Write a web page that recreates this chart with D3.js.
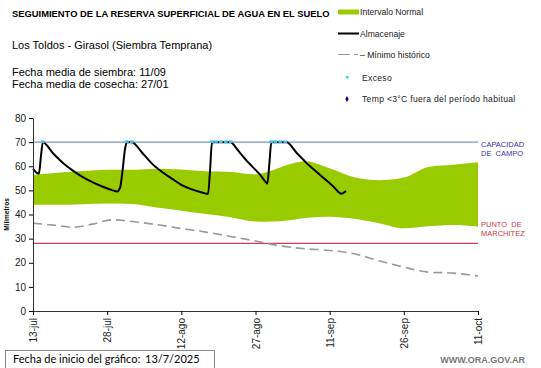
<!DOCTYPE html>
<html>
<head>
<meta charset="utf-8">
<script src="https://cdn.jsdelivr.net/npm/d3@7"></script>
<style>
  body { margin: 0; background: #fff; }
  svg { display: block; font-family: "Liberation Sans", Arial, sans-serif; }
</style>
</head>
<body>
<div id="chart"></div>
<script>
// dias desde el inicio del grafico (13/7/2025)
var bandDays = [0, 5, 10, 15, 20, 25, 30, 35, 40, 45, 47, 50, 53, 55, 60, 65, 70, 75, 80, 85, 90]
var bandHigh = [56.5, 57.3, 58, 58.6, 58.5, 59, 58.7, 57.9, 57.6, 56.6, 57.4, 59.5, 61.4, 62.1, 59.2, 55.4, 54.2, 55.3, 59.7, 60.6, 61.7]
var bandLow = [44, 44, 44.3, 44.6, 44.4, 42.9, 41.6, 40.2, 38.9, 37.1, 37, 37.2, 37.9, 38.6, 39.1, 38.2, 36.4, 34.3, 35.1, 35.6, 35]

var minDays = [0, 5, 8, 12, 16, 20, 25, 30, 35, 40, 45, 50, 55, 60, 65, 70, 75, 80, 85, 90]
var minHist = [36.4, 35.4, 34.7, 36, 37.8, 37.1, 35.8, 34.2, 32.7, 30.9, 29, 27, 25.8, 25.1, 23.7, 20.8, 18.2, 16.1, 15.7, 14.5]

var storeDays = [0, 0.7, 1.2, 1.6, 2, 4, 6, 8, 10, 12, 14, 16, 17, 17.6, 18.1, 18.6, 19, 20, 22, 24, 26, 28, 30, 32, 34, 35.4, 35.8, 36.2, 40, 41, 42, 43, 44, 45, 46, 47, 47.4, 47.8, 48.2, 51.3, 53.3, 55.3, 58, 60.7, 62.4, 63.3]
var storeValues = [59, 57.3, 56.9, 64, 70, 65.5, 61.5, 58.3, 55.6, 53.4, 51.6, 50.1, 49.5, 51, 58, 67, 70, 70, 65.8, 61.2, 57.8, 55, 52.3, 50.5, 49.2, 48.5, 58, 70, 70, 67.8, 65.2, 62.8, 60.6, 58.5, 56.3, 53.6, 52.8, 61, 70, 70, 65.6, 61.4, 56.5, 51.7, 48.6, 49.7]

var excessDays = [2, 19, 20, 36.2, 37, 38, 39, 40, 48.2, 49, 50, 51]

var tickDays = [0, 15, 30, 45, 60, 75, 90]
var tickLabels = ["13-jul", "28-jul", "12-ago", "27-ago", "11-sep", "26-sep", "11-oct"]
var yTicks = [0, 10, 20, 30, 40, 50, 60, 70, 80]

var capacidad = 70
var marchitez = 28

var width = 541, height = 368
var margin = { top: 118, left: 33, right: 63, bottom: 57 }

var svg = d3.select("#chart").append("svg")
    .attr("width", width)
    .attr("height", height)

var x = d3.scaleLinear().domain([0, 90]).range([margin.left, width - margin.right])
var y = d3.scaleLinear().domain([0, 80]).range([height - margin.bottom, margin.top])

// titulos
svg.append("text").attr("x", 12).attr("y", 17)
    .attr("font-size", 9.4).attr("font-weight", "bold")
    .text("SEGUIMIENTO DE LA RESERVA SUPERFICIAL DE AGUA EN EL SUELO")
svg.append("text").attr("x", 12).attr("y", 49).attr("font-size", 11)
    .text("Los Toldos - Girasol (Siembra Temprana)")
svg.append("text").attr("x", 12).attr("y", 76).attr("font-size", 11)
    .text("Fecha media de siembra: 11/09")
svg.append("text").attr("x", 12).attr("y", 88).attr("font-size", 11)
    .text("Fecha media de cosecha: 27/01")

// leyenda
var lg = svg.append("g").attr("font-size", 8.6).attr("fill", "#222")
lg.append("rect").attr("x", 338).attr("y", 9.5).attr("width", 21).attr("height", 5).attr("fill", "#99cc00")
lg.append("text").attr("x", 360).attr("y", 15).text("Intervalo Normal")
lg.append("line").attr("x1", 338).attr("x2", 359).attr("y1", 33.5).attr("y2", 33.5).attr("stroke", "#000").attr("stroke-width", 2)
lg.append("text").attr("x", 360).attr("y", 37).text("Almacenaje")
lg.append("line").attr("x1", 338).attr("x2", 358).attr("y1", 54.5).attr("y2", 54.5).attr("stroke", "#999").attr("stroke-width", 1).attr("stroke-dasharray", "12,4")
lg.append("text").attr("x", 360).attr("y", 58).text("– Mínimo histórico")
lg.append("rect").attr("x", 346).attr("y", 76).attr("width", 2.5).attr("height", 2.5).attr("fill", "#33ccee")
lg.append("text").attr("x", 362).attr("y", 80.5).attr("letter-spacing", 0.3).text("Exceso")
lg.append("path").attr("d", d3.symbol(d3.symbolDiamond, 10)()).attr("transform", "translate(347,99)").attr("fill", "#000099")
lg.append("text").attr("x", 362).attr("y", 102).attr("letter-spacing", 0.3).text("Temp <3°C fuera del período habitual")

// banda normal
var area = d3.area()
    .x(function (d, i) { return x(bandDays[i]) })
    .y0(function (d, i) { return y(bandLow[i]) })
    .y1(function (d, i) { return y(bandHigh[i]) })
    .curve(d3.curveMonotoneX)
svg.append("path").datum(bandDays).attr("d", area).attr("fill", "#99cc00")

// lineas de referencia
svg.append("line").attr("x1", x(0)).attr("x2", x(90)).attr("y1", y(capacidad)).attr("y2", y(capacidad))
    .attr("stroke", "#8096be").attr("stroke-width", 1.2)
svg.append("line").attr("x1", x(0)).attr("x2", x(90)).attr("y1", y(marchitez)).attr("y2", y(marchitez))
    .attr("stroke", "#d0404a").attr("stroke-width", 1.2)

svg.append("g").attr("font-size", 7.5).attr("fill", "#3333aa")
    .selectAll("text").data(["CAPACIDAD", "DE  CAMPO"]).enter().append("text")
    .attr("x", x(90) + 3).attr("y", function (d, i) { return y(capacidad) + 5 + i * 9 })
    .attr("xml:space", "preserve").text(function (d) { return d })
svg.append("g").attr("font-size", 7.5).attr("fill", "#cc3344")
    .selectAll("text").data(["PUNTO  DE", "MARCHITEZ"]).enter().append("text")
    .attr("x", x(90) + 3).attr("y", function (d, i) { return y(marchitez) - 16 + i * 9 })
    .attr("xml:space", "preserve").text(function (d) { return d })

// minimo historico
var minLine = d3.line()
    .x(function (d, i) { return x(minDays[i]) })
    .y(function (d, i) { return y(minHist[i]) })
    .curve(d3.curveMonotoneX)
svg.append("path").datum(minDays).attr("d", minLine)
    .attr("fill", "none").attr("stroke", "#999").attr("stroke-width", 1.6).attr("stroke-dasharray", "9,5")

// almacenaje
var storeLine = d3.line()
    .x(function (d, i) { return x(storeDays[i]) })
    .y(function (d, i) { return y(storeValues[i]) })
    .curve(d3.curveMonotoneX)
svg.append("path").datum(storeDays).attr("d", storeLine)
    .attr("fill", "none").attr("stroke", "#000").attr("stroke-width", 2)

// exceso
svg.selectAll(".exceso").data(excessDays).enter().append("rect")
    .attr("class", "exceso")
    .attr("x", function (d) { return x(d) - 1.8 })
    .attr("y", y(capacidad) - 1.8)
    .attr("width", 3.6).attr("height", 2.6)
    .attr("fill", "#3cc8f0")

// ejes
var yAxis = svg.append("g")
    .attr("transform", "translate(" + x(0) + ",0)")
    .call(d3.axisLeft(y).tickValues(yTicks).tickSize(4).tickSizeOuter(0))
yAxis.selectAll("text").attr("font-size", 10).attr("fill", "#222").attr("font-family", "Liberation Sans, Arial")
yAxis.select(".domain").attr("stroke", "#333")

var xAxis = svg.append("g")
    .attr("transform", "translate(0," + y(0) + ")")
    .call(d3.axisBottom(x).tickValues(tickDays).tickSize(4).tickSizeOuter(0)
        .tickFormat(function (d, i) { return tickLabels[i] }))
xAxis.selectAll("text")
    .attr("font-size", 10).attr("fill", "#222").attr("font-family", "Liberation Sans, Arial")
    .attr("transform", "rotate(-90)")
    .attr("text-anchor", "end")
    .attr("x", -7).attr("y", 0).attr("dy", "0.35em")
xAxis.select(".domain").attr("stroke", "#333")

svg.append("text")
    .attr("transform", "translate(9," + y(40) + ") rotate(-90)")
    .attr("text-anchor", "middle")
    .attr("font-size", 6.5).attr("font-weight", "bold")
    .text("Milimetros")

// pie
svg.append("rect").attr("x", 5.5).attr("y", 350.5).attr("width", 209).attr("height", 20)
    .attr("fill", "#fff").attr("stroke", "#888")
svg.append("text").attr("x", 13).attr("y", 363).attr("font-size", 11).attr("font-family", "Lato, sans-serif")
    .text("Fecha de inicio del gráfico:")
svg.append("text").attr("x", 145).attr("y", 363).attr("font-size", 11).attr("font-family", "Lato, sans-serif")
    .text("13/7/2025")
svg.append("text").attr("x", 525).attr("y", 363).attr("text-anchor", "end")
    .attr("font-size", 9).attr("font-weight", "bold").attr("fill", "#777")
    .text("WWW.ORA.GOV.AR")
</script>
</body>
</html>
